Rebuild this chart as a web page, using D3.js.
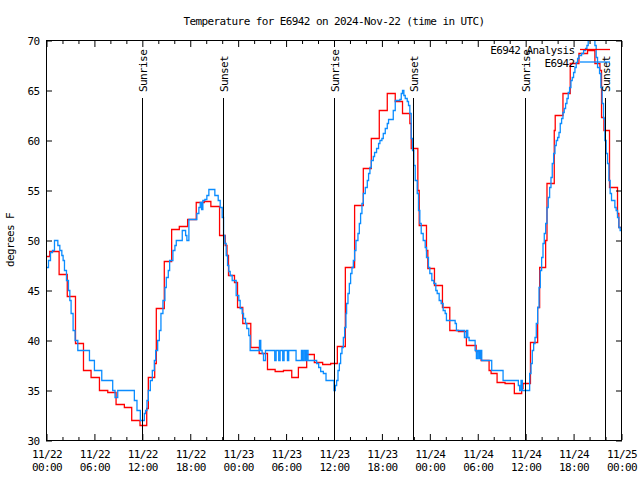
<!DOCTYPE html>
<html><head><meta charset="utf-8">
<script src="https://cdn.jsdelivr.net/npm/d3@7"></script>
<style>
html,body{margin:0;padding:0;background:#fff;}
svg{display:block;background:#fff;}
text{font-family:'DejaVu Sans Mono',monospace;font-size:11px;letter-spacing:-0.6px;fill:#000;}
</style></head><body>
<svg id="chart" width="640" height="480"></svg>
<script>
// ---------- data ----------
const titleText = "Temperature for E6942 on 2024-Nov-22 (time in UTC)";
const yAxisLabel = "degrees F";
const seriesNames = ["E6942 Analysis", "E6942"];
const seriesColors = ["#ff0000", "#0a8cff"];
const startISO = "2024-11-22T00:00:00Z";
const endISO = "2024-11-25T00:00:00Z";
const yTickValues = [30, 35, 40, 45, 50, 55, 60, 65, 70];
const sunriseISO = ["2024-11-22T12:00:00Z", "2024-11-23T12:00:00Z", "2024-11-24T12:00:00Z"];
const sunsetISO = ["2024-11-22T22:07:00Z", "2024-11-23T22:00:00Z", "2024-11-24T22:00:00Z"];

// analysis series: hours since start, temperature (F)
const analysisHours = [0, 0.4, 1.58, 2.6, 3.63, 4.63, 5.58, 6.63, 7.67, 8.71,
  9.75, 10.67, 11.71, 12.55, 12.75, 13.55, 13.75, 14.75, 15.67, 16.63,
  17.67, 18.75, 19.75, 20.58, 21.67, 22.38, 22.6, 22.79, 23.54, 23.92,
  24.58, 25.58, 26.63, 27.67, 28.63, 29.67, 30.71, 31.54, 32.58, 33.54,
  34.58, 35.58, 36.42, 37.42, 38.58, 39.67, 40.67, 41.67, 42.67, 43.67,
  44.58, 45.5, 45.67, 46.5, 46.67, 47.58, 47.75, 48.58, 49.58, 50.5,
  51.58, 52.58, 53.8, 54.42, 55.42, 55.67, 56.42, 57.42, 58.58, 59.5,
  59.67, 60.6, 61.5, 61.75, 62.5, 62.67, 63.58, 63.7, 64.67, 65.58,
  66.67, 67.75, 68.67, 69.3, 69.5, 69.8, 70.5, 71.5, 71.67, 72];
const analysisTemps = [48.4, 48.9, 46.6, 44.4, 39.7, 37.0, 36.3, 35.0, 34.8, 33.6,
  33.3, 32.0, 31.5, 33.2, 36.3, 37.7, 43.2, 47.9, 51.1, 51.4,
  52.1, 53.8, 53.9, 53.4, 50.5, 49.5, 48.5, 46.5, 45.8, 43.3,
  41.7, 39.3, 38.7, 37.1, 36.9, 37.0, 36.3, 37.3, 38.6, 37.8,
  37.6, 37.7, 39.4, 47.3, 53.5, 57.2, 60.2, 63.0, 64.7, 63.9,
  62.7, 61.7, 59.2, 55.0, 51.5, 49.0, 47.2, 45.5, 43.3, 41.0,
  40.9, 39.5, 38.9, 38.0, 37.0, 36.7, 35.8, 35.7, 34.7, 35.2,
  35.7, 39.8, 43.3, 47.3, 50.0, 55.7, 61.0, 62.5, 64.7, 67.7,
  68.7, 69.0, 67.7, 67.0, 62.3, 61.0, 55.3, 52.7, 51.3, 51.3];

// observed series: hours since start, temperature (F)
const obsHours = [0, 0.25, 0.5, 0.75, 1.0, 1.42, 1.67, 1.92, 2.08, 2.25,
  2.5, 2.75, 2.92, 3.08, 3.33, 3.58, 3.92, 5.38, 6.0, 6.92,
  8.29, 8.58, 8.92, 11.0, 11.33, 11.75, 12.25, 12.4, 12.58, 12.75,
  13.0, 13.25, 13.5, 13.67, 13.92, 14.13, 14.33, 14.58, 14.83, 15.0,
  15.25, 15.42, 15.83, 16.08, 16.25, 17.0, 17.42, 17.58, 17.83, 18.83,
  19.08, 19.25, 19.42, 19.58, 19.83, 20.08, 20.33, 21.08, 21.5, 21.75,
  22.0, 22.17, 22.33, 22.5, 22.67, 22.83, 23.0, 23.25, 23.75, 24.08,
  24.25, 24.5, 24.67, 24.92, 25.08, 25.33, 25.5, 26.67, 26.83, 27.0,
  27.17, 27.42, 28.58, 28.75, 29.08, 29.25, 29.58, 29.75, 30.17, 30.33,
  31.25, 31.92, 32.08, 32.25, 32.42, 32.58, 32.75, 33.83, 34.08, 34.33,
  34.67, 35.0, 36.0, 36.17, 36.33, 36.5, 36.67, 36.83, 37.0, 37.17,
  37.33, 37.5, 37.58, 37.75, 37.92, 38.08, 38.25, 38.42, 38.58, 38.75,
  39.0, 39.17, 39.33, 39.5, 39.67, 39.92, 40.17, 40.33, 40.5, 40.67,
  40.92, 41.08, 41.33, 41.58, 41.75, 42.0, 42.17, 42.42, 42.67, 42.83,
  43.42, 43.67, 44.25, 44.42, 44.58, 44.75, 44.92, 45.17, 45.33, 45.5,
  45.67, 45.83, 46.0, 46.17, 46.42, 46.58, 46.75, 46.92, 47.17, 47.42,
  47.58, 47.83, 48.0, 48.25, 48.5, 48.75, 48.92, 49.17, 49.42, 49.67,
  49.92, 50.08, 51.17, 51.33, 52.33, 52.58, 52.75, 52.92, 53.67, 53.83,
  54.0, 54.17, 54.33, 54.5, 55.75, 57.17, 59.08, 59.25, 59.42, 59.58,
  60.5, 60.67, 60.83, 61.0, 61.17, 61.33, 61.5, 61.67, 61.83, 62.0,
  62.17, 62.33, 62.5, 62.67, 62.83, 63.0, 63.17, 63.33, 63.5, 63.67,
  63.83, 64.0, 64.17, 64.33, 64.5, 64.67, 64.83, 65.0, 65.17, 65.33,
  65.5, 65.67, 65.83, 66.0, 66.17, 66.33, 66.5, 66.67, 67.0, 67.25,
  67.5, 67.67, 67.83, 68.0, 68.25, 68.5, 68.67, 68.83, 69.0, 69.25,
  69.42, 69.58, 69.75, 69.92, 70.08, 70.25, 70.42, 70.58, 70.75, 71.17,
  71.33, 71.5, 71.67, 71.83, 72];
const obsTemps = [47.3, 48, 48.8, 49, 50, 49.5, 49, 48.5, 48, 47,
  46, 45, 44, 42.7, 41, 40, 39, 38, 37, 36,
  35, 34.3, 35, 34, 33, 32, 32.7, 33, 34, 35,
  36, 37, 38, 39, 40, 41, 42.7, 44, 45.3, 46.3,
  47, 48, 49, 49.5, 50, 51, 50.5, 50, 52.1, 52.7,
  53.3, 53.8, 53.1, 54, 54.1, 54.5, 55.1, 54.5, 54, 53.3,
  52.3, 50.5, 49.7, 48.5, 47.5, 46.9, 46.5, 46, 44.5, 44,
  43.2, 42.7, 42.2, 41.7, 41.2, 40.5, 39, 40, 39, 38.7,
  38, 39, 38, 39, 38, 39, 38, 39, 38, 39,
  38, 39, 38, 39, 38, 39, 38, 37.7, 37.3, 36.9,
  36.7, 36, 35, 35.5, 36, 37, 37.7, 38.7, 39.3, 40.3,
  41.3, 42.7, 43.7, 44.7, 45.7, 46.7, 47.3, 48, 49, 50,
  50.7, 51.7, 52.7, 53.7, 54.7, 55.3, 56, 56.7, 57.3, 58,
  58.4, 58.8, 59.2, 59.7, 60, 60.2, 60.7, 61.2, 61.7, 62.1,
  63, 64, 64.1, 64.7, 65, 64.5, 64.2, 63.9, 63.5, 62.7,
  60.2, 59, 57.5, 56, 54.7, 53, 51.7, 50.7, 50, 49.3,
  48.3, 47.3, 46.7, 46, 45.7, 45, 44.7, 44, 43.7, 43,
  42.7, 42, 41.7, 41, 40.3, 41, 40.3, 40, 39, 38.2,
  39, 38.2, 39, 38, 37, 36, 35.5, 35, 36, 35,
  36.7, 37.7, 39, 39.7, 40.3, 41.7, 43.3, 45.3, 47, 48.3,
  49.7, 50.7, 51.7, 53.3, 54.3, 55.3, 56.3, 57.7, 58.7, 59.5,
  60, 60.3, 60.8, 61.7, 62.2, 62.8, 63.2, 63.7, 64.2, 64.8,
  65.3, 66, 66.3, 66.8, 67.3, 67.8, 68.2, 68.5, 68.7, 69,
  69.2, 69.5, 70, 70.6, 71, 70.2, 69.5, 68.3, 67.3, 66.7,
  65.3, 63.7, 62.2, 60, 58.7, 57.7, 56, 54.7, 54, 53.3,
  53, 52.3, 51.3, 51, 51];

// ---------- drawing ----------
const svg = d3.select("#chart");
const start = new Date(startISO), end = new Date(endISO);
const toDate = h => new Date(start.getTime() + h * 3600e3);

const x = d3.scaleUtc().domain([start, end]).range([46.5, 621.5]);
const y = d3.scaleLinear().domain([30, 70]).range([440.5, 40.5]);
const px = v => Math.round(v - 0.5) + 0.5;

svg.append("rect").attr("width", 640).attr("height", 480).attr("fill", "#fff");

svg.append("defs").append("clipPath").attr("id", "plotclip")
  .append("rect").attr("x", 46.5).attr("y", 40.5).attr("width", 575).attr("height", 400);

// data lines
const series = [
  analysisHours.map((h, i) => ({t: toDate(h), v: analysisTemps[i]})),
  obsHours.map((h, i) => ({t: toDate(h), v: obsTemps[i]}))
];
const line = d3.line().x(d => x(d.t)).y(d => y(d.v)).curve(d3.curveStepAfter);
const gData = svg.append("g").attr("clip-path", "url(#plotclip)");
// draw analysis (red) first then obs (blue)
series.forEach((s, i) => {
  gData.append("path").datum(s).attr("d", line)
    .attr("fill", "none").attr("stroke", seriesColors[i]).attr("stroke-width", 1.3)
    .attr("stroke-linejoin", "miter");
});

// sunrise / sunset markers
const events = [];
sunriseISO.forEach(s => events.push({t: new Date(s), label: "Sunrise"}));
sunsetISO.forEach(s => events.push({t: new Date(s), label: "Sunset"}));
events.forEach(e => {
  const ex = px(x(e.t));
  svg.append("line").attr("x1", ex).attr("x2", ex).attr("y1", 98).attr("y2", 440)
    .attr("stroke", "#000").attr("stroke-width", 1);
  svg.append("text").attr("transform", `translate(${ex + 4.5},92) rotate(-90)`)
    .attr("text-anchor", "start").text(e.label);
});

// axes
const majorTicks = d3.utcHour.every(6).range(start, new Date(end.getTime() + 1));
const minorTicks = d3.utcHour.every(2).range(start, new Date(end.getTime() + 1))
  .filter(d => d.getUTCHours() % 6 !== 0);
const fmtDate = d3.utcFormat("%m/%d"), fmtTime = d3.utcFormat("%H:%M");

function styleAxis(g) {
  g.select(".domain").remove();
  g.selectAll(".tick line").attr("stroke", "#000").attr("stroke-width", 1);
  g.attr("font-family", null).attr("font-size", null);
}

const gBottomMinor = svg.append("g").attr("transform", "translate(0,440)")
  .call(d3.axisBottom(x).tickValues(minorTicks).tickSize(-3).tickFormat(""));
styleAxis(gBottomMinor);
const gBottom = svg.append("g").attr("transform", "translate(0,440)")
  .call(d3.axisBottom(x).tickValues(majorTicks).tickSize(-6).tickFormat(""));
styleAxis(gBottom);
gBottom.selectAll(".tick text").remove();
gBottom.selectAll(".tick").each(function(d) {
  const t = d3.select(this).append("text").attr("text-anchor", "middle").attr("fill", "#000");
  t.append("tspan").attr("x", 0).attr("y", 17.5).text(fmtDate(d));
  t.append("tspan").attr("x", 0).attr("y", 31).text(fmtTime(d));
});

const gTopMinor = svg.append("g").attr("transform", "translate(0,41)")
  .call(d3.axisTop(x).tickValues(minorTicks).tickSize(-3).tickFormat(""));
styleAxis(gTopMinor);
const gTop = svg.append("g").attr("transform", "translate(0,41)")
  .call(d3.axisTop(x).tickValues(majorTicks).tickSize(-6).tickFormat(""));
styleAxis(gTop);

const gLeft = svg.append("g").attr("transform", "translate(46,0)")
  .call(d3.axisLeft(y).tickValues(yTickValues).tickSize(-6).tickPadding(7).tickFormat(d3.format("d")));
styleAxis(gLeft);
gLeft.selectAll(".tick text").attr("fill", "#000").attr("dx", "0.6px");

const gRight = svg.append("g").attr("transform", "translate(622,0)")
  .call(d3.axisRight(y).tickValues(yTickValues).tickSize(-6).tickFormat(""));
styleAxis(gRight);

// border
svg.append("rect").attr("x", 46.5).attr("y", 40.5).attr("width", 575).attr("height", 400)
  .attr("fill", "none").attr("stroke", "#000").attr("stroke-width", 1);

// title and y label
svg.append("text").attr("x", 334).attr("y", 25).attr("text-anchor", "middle").text(titleText);
svg.append("text").attr("transform", "translate(14,240) rotate(-90)")
  .attr("text-anchor", "middle").text(yAxisLabel);

// legend
const legendRows = [49.5, 62];
seriesNames.forEach((name, i) => {
  svg.append("text").attr("x", 574.6).attr("y", legendRows[i] + 4.5)
    .attr("text-anchor", "end").text(name);
  svg.append("line").attr("x1", 580).attr("x2", 610)
    .attr("y1", legendRows[i]).attr("y2", legendRows[i])
    .attr("stroke", seriesColors[i]).attr("stroke-width", 1.3);
});
</script>
</body></html>
